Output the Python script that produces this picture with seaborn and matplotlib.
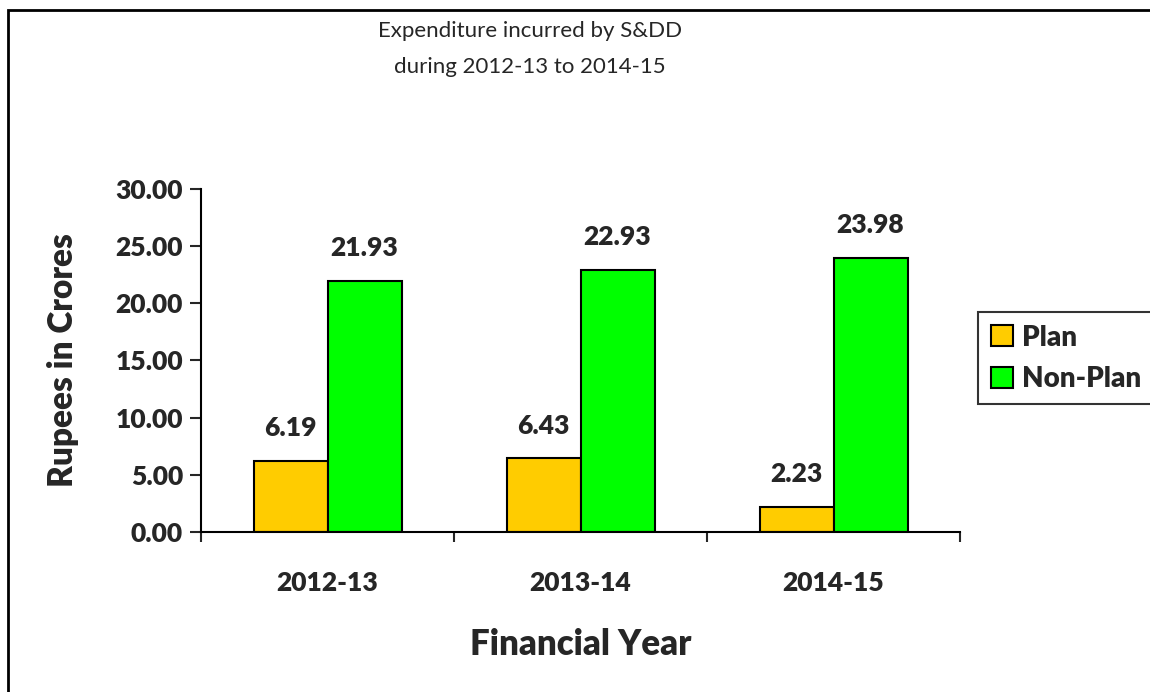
import matplotlib
matplotlib.use("Agg")
import matplotlib.pyplot as plt
import seaborn as sns
import pandas as pd
from matplotlib.patches import Rectangle
from matplotlib.ticker import FixedLocator

years = ["2012-13", "2013-14", "2014-15"]
plan = [6.19, 6.43, 2.23]
non_plan = [21.93, 22.93, 23.98]
series = ["Plan", "Non-Plan"]
colors = ["#FFCC00", "#00FF00"]

df = pd.DataFrame({
    "year": years * 2,
    "value": plan + non_plan,
    "type": [series[0]] * 3 + [series[1]] * 3,
})

sns.set_style("white")
plt.rcParams["font.family"] = ["Lato", "DejaVu Sans"]

fig = plt.figure(figsize=(11.5, 6.92), dpi=100)
ax = fig.add_axes([0.1748, 0.2312, 0.66, 0.4957])

sns.barplot(data=df, x="year", y="value", hue="type", palette=colors, saturation=1,
            width=0.585, edgecolor="black", linewidth=1.5, ax=ax, legend=True)

for cont in ax.containers:
    ax.bar_label(cont, fmt="%.2f", padding=15, fontsize=19, fontweight="heavy")

ax.set_xlim(-0.5, 2.5)
ax.set_ylim(0, 30)
ax.set_yticks([0, 5, 10, 15, 20, 25, 30])
ax.set_yticklabels([f"{v:.2f}" for v in range(0, 31, 5)], fontsize=19, fontweight="heavy")
ax.set_xticks(range(3))
ax.set_xticklabels(years, fontsize=19, fontweight="heavy")
ax.xaxis.set_minor_locator(FixedLocator([-0.5, 0.5, 1.5, 2.5]))
ax.tick_params(axis="x", which="major", length=0, pad=28)
ax.tick_params(axis="x", which="minor", length=7, width=1.5, direction="out", bottom=True)
ax.tick_params(axis="y", length=8, width=1.5, direction="out", left=True, pad=5)

for s in ["top", "right"]:
    ax.spines[s].set_visible(False)
for s in ["left", "bottom"]:
    ax.spines[s].set_linewidth(1.5)
    ax.spines[s].set_color("black")

ax.set_ylabel("Rupees in Crores", fontsize=24, fontweight="heavy", labelpad=26)
ax.set_xlabel("Financial Year", fontsize=25, fontweight="heavy", labelpad=24)

handles, labels = ax.get_legend_handles_labels()
ax.legend(handles, labels, loc="upper left", bbox_to_anchor=(978 / 1150, 1 - 312 / 692),
          bbox_transform=fig.transFigure, frameon=True, fancybox=False,
          edgecolor="black", prop={"weight": "heavy", "size": 20},
          handlelength=0.8, handleheight=0.8, handletextpad=0.35, borderpad=0.45,
          borderaxespad=0, labelspacing=0.55)
ax.get_legend().get_frame().set_linewidth(1.5)

fig.text(530 / 1150, 1 - 49 / 692, "Expenditure incurred by S&DD\nduring 2012-13 to 2014-15",
         ha="center", va="center", fontsize=16, linespacing=1.95)

fig.patches.append(Rectangle((8 / 1150, -0.1), 1.2, 1 - 10 / 692 + 0.1,
                             transform=fig.transFigure, fill=False,
                             edgecolor="black", linewidth=2))

fig.savefig("out.png", dpi=100)
